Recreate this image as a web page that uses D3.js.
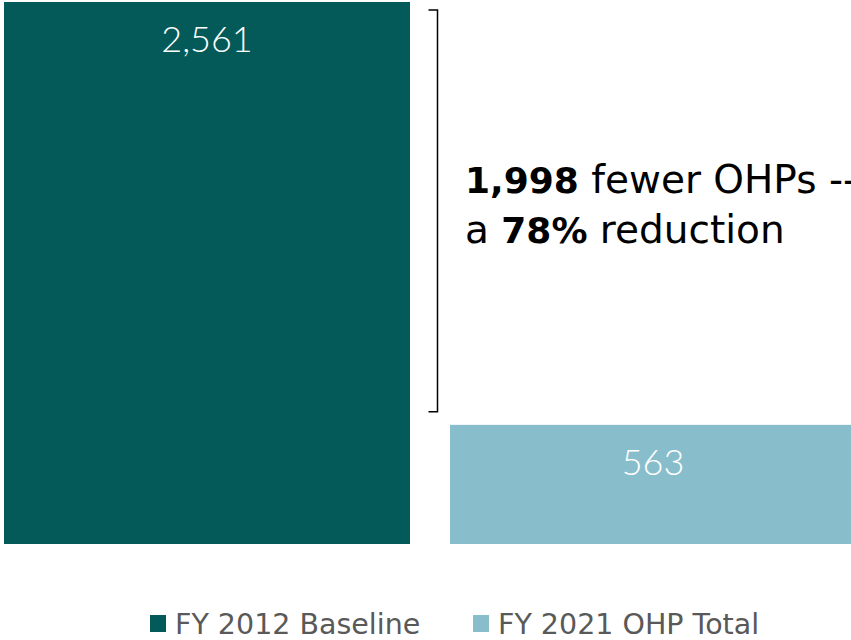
<!DOCTYPE html>
<html>
<head>
<meta charset="utf-8">
<script src="https://cdn.jsdelivr.net/npm/d3@7"></script>
<style>
  html, body { margin: 0; padding: 0; background: #fff; }
  svg { display: block; }
  text { font-family: "DejaVu Sans", sans-serif; }
</style>
</head>
<body>
<div id="chart"></div>
<script>
const categories = ["FY 2012 Baseline", "FY 2021 OHP Total"];
const values = [2561, 563];
const colors = ["#045A59", "#88BECB"];

const W = 851, H = 640;
const svg = d3.select("#chart").append("svg").attr("width", W).attr("height", H);

const x = d3.scaleBand().domain(categories).range([4, 856]).paddingInner(40 / 446).paddingOuter(0);
const y = d3.scaleLinear().domain([0, d3.max(values)]).range([544, 2]);
const fmt = d3.format(",");

const data = categories.map((c, i) => ({ cat: c, value: values[i], color: colors[i] }));

svg.selectAll("rect.bar").data(data).join("rect")
  .attr("class", "bar")
  .attr("x", d => x(d.cat))
  .attr("y", d => y(d.value))
  .attr("width", x.bandwidth())
  .attr("height", d => y(0) - y(d.value))
  .attr("fill", d => d.color);

svg.selectAll("text.val").data(data).join("text")
  .attr("class", "val")
  .attr("x", d => x(d.cat) + x.bandwidth() / 2)
  .attr("y", d => y(d.value) + 50)
  .attr("text-anchor", "middle")
  .attr("fill", "#fff")
  .attr("font-size", 36)
  .attr("font-weight", 300)
  .style("font-family", "Lato, sans-serif")
  .text(d => fmt(d.value));

// bracket annotation
const bx = x(categories[0]) + x.bandwidth() + 27.5;
const bTop = y(values[0]) + 8, bBot = y(values[1]) - 13;
svg.append("path")
  .attr("d", `M${bx - 9},${bTop} H${bx} V${bBot} H${bx - 9}`)
  .attr("fill", "none").attr("stroke", "#000").attr("stroke-width", 1.5);

const diff = values[0] - values[1];
const pct = Math.round(diff / values[0] * 100);
const ann = svg.append("text").attr("x", 465).attr("font-size", 39).attr("fill", "#000");
const l1 = ann.append("tspan").attr("x", 465).attr("y", 193);
l1.append("tspan").attr("font-weight", 700).attr("font-size", 36).text(fmt(diff));
l1.append("tspan").text(" fewer OHPs --");
const l2 = ann.append("tspan").attr("x", 465).attr("y", 243);
l2.append("tspan").text("a ");
l2.append("tspan").attr("font-weight", 700).attr("font-size", 36).text(pct + "%");
l2.append("tspan").text(" reduction");

// legend
const legX = [150, 473];
const leg = svg.selectAll("g.leg").data(data).join("g")
  .attr("class", "leg")
  .attr("transform", (d, i) => `translate(${legX[i]},0)`);
leg.append("rect").attr("x", 0).attr("y", 615).attr("width", 16).attr("height", 17).attr("fill", d => d.color);
leg.append("text").attr("x", 25).attr("y", 634).attr("font-size", 28.5).attr("fill", "#595959").text(d => d.cat);
</script>
</body>
</html>
